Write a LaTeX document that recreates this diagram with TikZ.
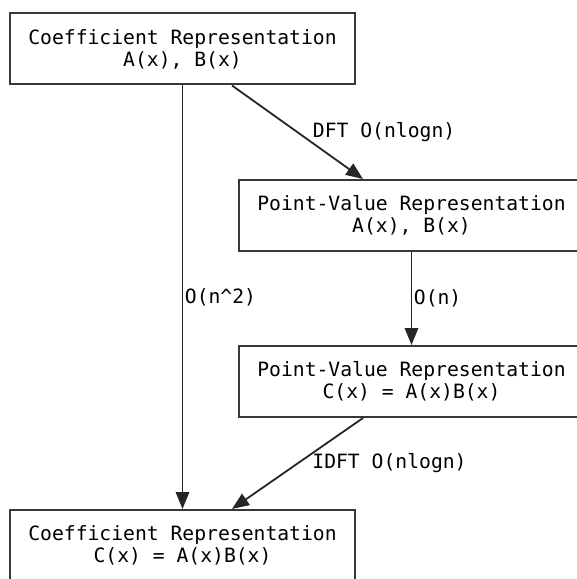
\documentclass[tikz,border=0pt]{standalone}
\usepackage{fontspec}
\setmonofont{DejaVu Sans Mono}
\usetikzlibrary{arrows.meta,calc}
\begin{document}
\begin{tikzpicture}[x=1bp,y=-1bp,
  box/.style={draw=black!78, line width=2bp, rectangle, minimum width=345bp, minimum height=71bp,
    align=center, inner sep=0pt, font=\ttfamily\fontsize{19.7bp}{22bp}\selectfont},
  arr/.style={draw=black!85, line width=1.8bp, -{Triangle[length=17bp,width=13.5bp]}},
  lbl/.style={font=\ttfamily\fontsize{19.7bp}{22bp}\selectfont, inner sep=0pt, anchor=west}]
\useasboundingbox (0,0) rectangle (577,579);
\node[box] (n1) at (182.5,49) {Coefficient Representation\\A(x), B(x)};
\node[box] (n2) at (411.5,215.5) {Point-Value Representation\\A(x), B(x)};
\node[box] (n3) at (411.5,381.5) {Point-Value Representation\\C(x) = A(x)B(x)};
\node[box] (n4) at (182.5,545.5) {Coefficient Representation\\C(x) = A(x)B(x)};
\draw[arr] (n1.south) -- node[lbl, midway, xshift=1.5bp] (l1) {O(n\textasciicircum 2)} (n4.north);
\draw[arr] ($(n1.south)+(49.5,0)$) -- node[lbl, midway, xshift=14.5bp] (l2) {DFT O(nlogn)} ($(n2.north)+(-48.5,0)$);
\draw[arr] (n2.south) -- node[lbl, midway, xshift=1.5bp] (l3) {O(n)} (n3.north);
\draw[arr] ($(n3.south)+(-48.5,0)$) -- node[lbl, midway, xshift=14bp] (l4) {IDFT O(nlogn)} ($(n4.north)+(49.5,0)$);
\end{tikzpicture}
\end{document}
